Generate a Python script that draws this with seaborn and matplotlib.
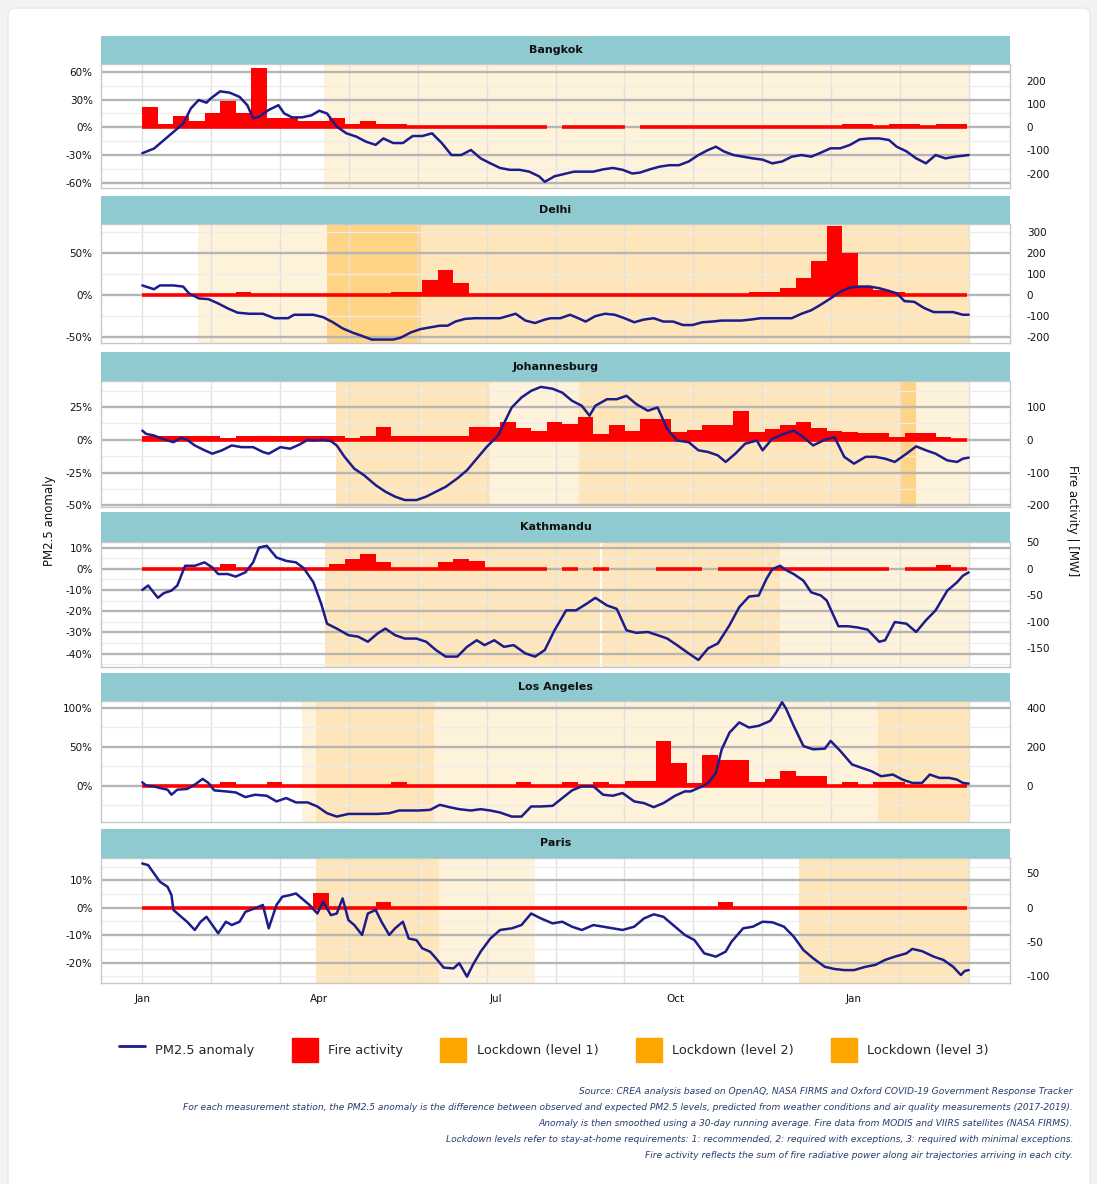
import numpy as np
import pandas as pd
import matplotlib
matplotlib.use("Agg")
import matplotlib.pyplot as plt
import seaborn as sns
from matplotlib.patches import Patch, FancyBboxPatch
from matplotlib.lines import Line2D

# ---------------------------------------------------------------- data
START = pd.Timestamp("2020-01-01")
END_DAY = 425          # 2021-03-01
BIN_DAYS = 8           # fire activity bins

cities = ["Bangkok", "Delhi", "Johannesburg", "Kathmandu", "Los Angeles", "Paris"]

bangkok_days = [0,6,11,16,21,25,29,33,35,40,45,50,54,57,60,65,70,73,77,82,87,91,95,100,105,110,115,120,124,129,
                134,139,144,149,154,159,164,169,174,179,184,189,194,199,204,207,212,217,222,227,232,237,242,247,252,256,
                261,266,271,276,281,286,291,295,299,304,309,314,319,324,329,334,339,344,349,354,359,364,369,374,379,384,
                388,393,398,403,408,413,418,425]
bangkok_pm = [-28,-23,-14,-5,4,20.6,29.6,26.7,31,39,37.5,33,24,9.7,11.5,18.8,24,15,10.8,10.8,13,18,15,0.7,-6.5,-10,
              -15.5,-19,-12,-17,-17,-9.4,-9.4,-6.5,-17,-30,-30,-24.5,-33.6,-39,-44,-46,-46,-48,-53,-59,-53,-50.5,-48,-48,
              -48,-45.5,-44,-46,-50,-49,-45.5,-42.6,-41,-41,-37,-30,-24.5,-21,-26,-30,-31.8,-33.6,-35,-39,-37,-31.8,-30,
              -31.8,-27.4,-22.7,-22.7,-19,-13,-12,-12,-13.7,-21,-26,-33.6,-39,-30,-33.6,-31.8,-30]
bangkok_fire = [87,14,50,29,63,114,63,255,39,39,27,27,39,14,29,14,14,0,0,0,0,0,0,0,0,0,np.nan,0,0,0,0,np.nan,
                0,0,0,0,0,0,0,0,0,0,0,0,0,14,14,0,14,14,0,14,14]

delhi_days = [0,6,9,16,21,24,29,34,39,44,49,55,62,68,75,78,83,88,93,98,103,108,113,118,123,129,133,138,143,148,
              153,157,161,166,171,177,184,189,192,197,202,207,210,215,220,225,228,233,238,243,248,253,258,263,268,273,
              278,283,288,293,298,303,308,313,318,322,329,334,339,344,349,354,359,364,369,374,379,384,388,392,397,402,
              407,412,417,422,425]
delhi_pm = [11.4,6.9,11.4,11.4,10,2,-4,-4.9,-10,-16,-21,-22.3,-22.3,-27.6,-27.6,-23.5,-23.5,-23.5,-26.4,-32.4,
            -39.7,-44.6,-48.7,-53,-53,-53,-50.7,-44.6,-40.6,-38.5,-36.5,-36.5,-31.6,-28.4,-27.6,-27.6,-27.6,-24.3,-22.3,
            -30.4,-33.3,-29.2,-27.6,-27.6,-23.5,-28.4,-31.6,-25.1,-22.3,-23.5,-27.6,-32.4,-29.2,-27.6,-31.6,-31.6,-35.7,
            -35.7,-32.4,-31.6,-30.4,-30.4,-30.4,-29.2,-27.6,-27.6,-27.6,-27.6,-22.3,-18.2,-11.4,-4,4,8.9,10.1,10.1,8.1,
            4.9,2,-7.3,-8.1,-15.4,-20.3,-20.3,-20.3,-23.5,-23.5]
delhi_fire = [0,0,0,0,0,0,16,0,0,0,0,0,0,0,0,0,16,16,70,121,57,0,0,0,0,0,0,0,0,0,0,0,0,0,0,0,0,0,0,16,16,32,81,
              162,328,202,36,24,16,0,0,0,0]

joburg_days = [0,2,6,9,13,16,20,23,27,32,36,41,46,51,57,62,65,71,76,81,85,88,93,97,100,104,109,114,120,125,
               130,135,141,146,151,156,162,167,172,177,183,186,190,195,200,205,211,216,221,226,230,233,239,244,249,254,
               260,265,270,275,281,286,291,296,300,305,310,316,319,324,330,335,340,345,351,356,361,366,372,377,382,387,
               393,398,403,408,414,419,422,425]
joburg_pm = [7,4.5,3.3,1.5,-0.5,-1.8,1.5,0,-4.3,-8,-10.6,-8,-4.3,-5.6,-5.6,-9.3,-10.6,-5.6,-6.8,-3.5,0,-0.5,0,-1,
             -4.3,-13,-22,-27,-34.6,-39.6,-43.4,-46,-46,-43.4,-39.6,-35.9,-29.5,-23.2,-14.4,-5.6,3.3,12.6,24.7,32.3,37.4,
             40.4,39,36,29.8,26,18.4,26,31,31,33.6,27.3,22.2,24.7,8.3,-0.5,-1.8,-8,-9.3,-11.9,-16.9,-10.6,-3,-0.5,-8,0.8,
             4.5,7,2,-4.3,0,2,-13,-18.2,-13,-13,-14.4,-16.9,-10.6,-5,-8,-10.6,-15.7,-16.9,-14.4,-13.6]
joburg_fire = [13,13,13,13,13,6,13,13,13,13,13,13,13,6,13,38,13,13,13,13,13,38,38,55,36,28,55,48,71,18,46,28,64,64,
               23,30,46,46,89,23,33,46,54,36,28,23,20,20,10,20,20,10,3]

kathmandu_days = [0,3,8,11,15,18,22,27,32,36,39,44,48,53,57,60,64,69,74,79,83,88,92,95,100,106,111,116,121,125,
                  130,135,141,146,151,156,162,167,172,176,181,186,191,197,202,207,212,218,223,228,233,239,244,249,254,
                  260,265,270,275,281,286,291,296,302,307,312,317,321,324,328,331,335,340,344,349,352,358,363,368,373,
                  379,382,387,393,398,403,408,414,419,422,425]
kathmandu_pm = [-10,-7.9,-13.7,-11.5,-10.3,-7.9,1.4,1.4,3,0.6,-2.5,-2.5,-3.7,-1.7,3,10,10.8,5.3,3.7,3,0.3,-6.4,-16.5,
                -25.9,-28.2,-31.3,-32,-34.4,-30.5,-28.2,-31.3,-32.9,-32.9,-34.4,-38.3,-41.4,-41.4,-36.8,-33.7,-36,-33.7,
                -36.8,-36,-39.9,-41.4,-38.3,-29,-19.6,-19.6,-16.8,-13.7,-17.3,-18.9,-29,-30.2,-29.8,-31.3,-32.9,-36,-39.9,
                -43,-37.5,-35.2,-26.6,-18.1,-13.1,-12.6,-4.8,-0.2,1.4,-0.6,-2.5,-5.6,-11.1,-12.6,-15,-27.1,-27.1,-27.7,
                -28.7,-34.4,-33.7,-25.1,-25.9,-29.8,-24.3,-19.6,-10.3,-6.4,-3.3,-1.7]
kathmandu_fire = [0,0,0,0,0,8.7,0,0,0,0,0,0,8.7,18,28.7,11.8,0,0,0,11.8,18,13.7,0,0,0,0,np.nan,0,np.nan,0,
                  np.nan,np.nan,np.nan,0,0,0,np.nan,0,0,0,0,0,0,0,0,0,0,0,np.nan,0,0,7.5,0]

la_days = [0,2,6,9,13,15,18,23,27,31,34,37,43,48,53,58,64,69,74,79,85,90,95,100,106,111,116,121,127,132,
           137,142,148,153,158,163,169,174,179,184,190,195,200,205,211,216,221,226,232,237,242,247,253,258,263,268,
           274,279,282,288,291,295,298,302,307,312,317,323,326,329,331,335,340,345,351,354,359,365,370,375,380,386,
           391,396,401,405,410,415,419,422,425]
la_pm = [4.3,0,-0.9,-3,-5.2,-11.7,-5.2,-4.3,1.3,8.7,3.5,-6.1,-7.4,-8.7,-14.7,-11.7,-13,-20.3,-16,-21.6,-21.6,-26.8,
         -35.5,-39.8,-36.4,-36.4,-36.4,-36.4,-35.5,-32,-32,-32,-31.2,-24.7,-27.7,-30.3,-32,-30.3,-32,-34.6,-39.8,-39.8,
         -26.8,-26.8,-26,-16,-6.1,-0.9,-0.9,-11.7,-13,-9.5,-20.3,-22.5,-27.7,-22.5,-13,-7.4,-7.4,-0.9,3.5,16.5,46.8,
         68.4,81.4,74.9,77,83.5,94.4,107.4,99.6,77,51,46.8,47.6,57.6,44.6,27.3,22.9,18.6,12.1,14.3,7.8,3.5,3.5,14.3,10,
         10,7.8,3.5,2.6]
la_fire = [0,0,0,0,0,17,0,0,17,0,0,0,0,0,0,0,17,0,0,0,0,0,0,0,17,0,0,17,0,17,0,22,22,230,118,14,156,132,132,17,35,
           78,48,48,0,17,0,17,17,0,0,0,0]

paris_days = [0,3,6,9,13,15,16,20,23,27,30,33,36,39,43,46,50,53,58,62,65,69,72,76,79,83,86,90,93,97,100,103,106,109,
              113,116,120,123,127,130,134,137,141,144,148,151,155,160,163,167,170,174,179,184,190,195,200,205,211,216,
              221,226,232,237,242,247,253,258,263,268,274,279,284,289,295,300,303,309,314,319,324,330,335,340,345,351,
              356,361,366,372,377,382,387,393,396,401,407,412,417,421,423,425]
paris_pm = [16.1,15.5,12.5,9.5,7.6,4.6,-0.8,-3.3,-5.1,-8.1,-5.1,-3.3,-6.3,-9.3,-5.1,-6.3,-5.1,-1.5,-0.2,1,-7.5,1,4,
            4.6,5.2,2.8,1,-2.1,2.2,-2.7,-2.1,3.4,-4.5,-6.3,-9.9,-2.1,-0.8,-5.1,-9.9,-7.5,-5.1,-11.2,-11.8,-14.8,-16,
            -18.4,-21.8,-22.1,-20.2,-25.1,-20.8,-16,-11.2,-8.1,-7.5,-6.3,-2.1,-3.9,-5.7,-5.1,-6.9,-8.1,-6.3,-6.9,-7.5,
            -8.1,-6.9,-3.9,-2.4,-3.3,-6.9,-9.9,-11.8,-16.6,-17.8,-16,-12.4,-7.5,-6.9,-5.1,-5.3,-6.9,-10.5,-15.4,-18.4,
            -21.5,-22.3,-22.7,-22.7,-21.5,-20.8,-19,-17.8,-16.6,-15,-15.8,-17.8,-19,-21.5,-24.5,-23,-22.7]
paris_fire = [0,0,0,0,0,0,0,0,0,0,0,21,0,0,0,8.7,0,0,0,0,0,0,0,0,0,0,0,0,0,0,0,0,0,0,0,0,0,8.7,0,0,0,0,0,0,0,0,0,
              0,0,0,0,0,0]

# lockdown periods: (start day, end day, level)
bangkok_lock = [(93.5, 425, 1)]
delhi_lock = [(28.7, 95.2, 1), (95.2, 143.4, 3), (143.4, 425, 2)]
joburg_lock = [(99.4, 179, 2), (179, 224.6, 1), (224.6, 389.8, 2), (389.8, 398, 3), (398, 425, 1)]
kathmandu_lock = [(93.7, 235.5, 2), (236.5, 328, 2), (328, 425, 1)]
la_lock = [(82, 89.5, 1), (89.5, 150, 2), (150, 378.4, 1), (378.4, 425, 2)]
paris_lock = [(89.5, 152.7, 2), (152.7, 201.9, 1), (337.5, 425, 2)]

# axis tick values
bangkok_ticks = ([60, 30, 0, -30, -60], [200, 100, 0, -100, -200])
delhi_ticks = ([50, 0, -50], [300, 200, 100, 0, -100, -200])
joburg_ticks = ([25, 0, -25, -50], [100, 0, -100, -200])
kathmandu_ticks = ([10, 0, -10, -20, -30, -40], [50, 0, -50, -100, -150])
la_ticks = ([100, 50, 0], [400, 200, 0])
paris_ticks = ([10, 0, -10, -20], [50, 0, -50, -100])

FIRE_PER_PCT = 4.0   # secondary axis ratio

x_month_labels = ["Jan", "Apr", "Jul", "Oct", "Jan"]
x_month_dates = ["2020-01-01", "2020-04-01", "2020-07-01", "2020-10-01", "2021-01-01"]

legend_labels = ["PM2.5 anomaly", "Fire activity", "Lockdown (level 1)", "Lockdown (level 2)", "Lockdown (level 3)"]

footnote = [
    "Source: CREA analysis based on OpenAQ, NASA FIRMS and Oxford COVID-19 Government Response Tracker",
    "For each measurement station, the PM2.5 anomaly is the difference between observed and expected PM2.5 levels, "
    "predicted from weather conditions and air quality measurements (2017-2019).",
    "Anomaly is then smoothed using a 30-day running average. Fire data from MODIS and VIIRS satellites (NASA FIRMS).",
    "Lockdown levels refer to stay-at-home requirements: 1: recommended, 2: required with exceptions, "
    "3: required with minimal exceptions.",
    "Fire activity reflects the sum of fire radiative power along air trajectories arriving in each city.",
]

# ---------------------------------------------------------------- style
sns.set_style("white")
plt.rcParams["font.family"] = ["DejaVu Sans"]

NAVY = "#1c1c8a"
RED = "#ff0000"
ORANGE = "#ffa500"
STRIP = "#8fcad1"
LOCK_ALPHA = {1: 0.14, 2: 0.27, 3: 0.48}

W, H = 1097, 1184
fig = plt.figure(figsize=(W / 100, H / 100), dpi=100, facecolor="#f2f2f2")
card = FancyBboxPatch((8 / W, -0.02), 1082 / W, (H - 8) / H + 0.02,
                      boxstyle="round,pad=0,rounding_size=0.006", transform=fig.transFigure,
                      facecolor="white", edgecolor="#e8e8e8", lw=1, zorder=-10)
fig.patches.append(card)

panels = [(36, 64, 188), (196, 224, 343), (352, 381, 507), (512, 542, 667), (673, 701, 822), (829, 858, 983)]
ylims = [(-65.7, 68.6), (-57.1, 84.5), (-51.3, 44.9), (-46.3, 12.6), (-46.8, 109), (-27.4, 18.1)]

series = [
    (bangkok_days, bangkok_pm, bangkok_fire, bangkok_lock, bangkok_ticks),
    (delhi_days, delhi_pm, delhi_fire, delhi_lock, delhi_ticks),
    (joburg_days, joburg_pm, joburg_fire, joburg_lock, joburg_ticks),
    (kathmandu_days, kathmandu_pm, kathmandu_fire, kathmandu_lock, kathmandu_ticks),
    (la_days, la_pm, la_fire, la_lock, la_ticks),
    (paris_days, paris_pm, paris_fire, paris_lock, paris_ticks),
]

L, AW = 101 / W, 909 / W
day = pd.Timedelta(days=1)
pad_days = 0.05 * END_DAY
xmin = START - pad_days * day
xmax = START + (END_DAY + pad_days) * day

for i, (city, (top_s, top_a, bot_a), ylim, (days, pm, fire, locks, (lt, rt))) in enumerate(
        zip(cities, panels, ylims, series)):
    ax = fig.add_axes([L, 1 - bot_a / H, AW, (bot_a - top_a) / H])
    sax = fig.add_axes([L, 1 - top_a / H, AW, (top_a - top_s) / H])

    # strip
    sax.set_facecolor(STRIP)
    sax.set_xticks([]); sax.set_yticks([])
    for s in sax.spines.values():
        s.set_visible(False)
    sax.text(0.5, 0.5, city, ha="center", va="center", fontsize=8, fontweight="bold",
             color="#111111", transform=sax.transAxes)

    # lockdown shading
    for d0, d1, lvl in locks:
        ax.axvspan(START + d0 * day, START + d1 * day, color=ORANGE, alpha=LOCK_ALPHA[lvl], lw=0, zorder=0.5)

    # grid
    for v in np.linspace(0, END_DAY, 13):
        ax.axvline(START + v * day, color="#e1e1e1", lw=1, zorder=1)
    step = abs(lt[0] - lt[1])
    minors = np.arange(min(lt) - step / 2, max(lt) + step, step)
    for m in minors:
        if ylim[0] < m < ylim[1]:
            ax.axhline(m, color="#ececec", lw=0.9, zorder=1)
    for t in lt:
        ax.axhline(t, color="#b5b5b5", lw=1.7, zorder=1.1)

    # fire activity (scaled to the left axis like a secondary axis)
    fire = np.asarray(fire, dtype=float)
    bin_start = START + pd.to_timedelta(np.arange(len(fire)) * BIN_DAYS, unit="D")
    ax.bar(bin_start, fire / FIRE_PER_PCT, width=BIN_DAYS, align="edge", color=RED, lw=0, zorder=3)
    valid = ~np.isnan(fire)
    ax.hlines(np.zeros(valid.sum()), bin_start[valid], bin_start[valid] + BIN_DAYS * day,
              color=RED, lw=2.6, zorder=3.1)

    # PM2.5 anomaly
    df = pd.DataFrame({"date": START + pd.to_timedelta(np.asarray(days), unit="D"), "pm": pm})
    sns.lineplot(data=df, x="date", y="pm", ax=ax, color=NAVY, lw=1.8, estimator=None, zorder=5)

    ax.set_xlim(xmin, xmax)
    ax.set_ylim(*ylim)
    ax.set_xlabel(""); ax.set_ylabel("")
    ax.set_yticks(lt)
    ax.set_yticklabels([f"{v:g}%" for v in lt])
    ax.tick_params(axis="y", length=4, color="#9a9a9a", labelsize=7.5, labelcolor="#111111", pad=2)
    xt = pd.to_datetime(x_month_dates)
    ax.set_xticks(xt)
    if i == len(cities) - 1:
        ax.set_xticklabels(x_month_labels)
        ax.tick_params(axis="x", length=5, color="#9a9a9a", labelsize=7.5, labelcolor="#111111", pad=3)
    else:
        ax.set_xticklabels([])
        ax.tick_params(axis="x", length=0)
    for s in ax.spines.values():
        s.set_color("#c8c8c8"); s.set_linewidth(1)

    sec = ax.secondary_yaxis("right", functions=(lambda y: y * FIRE_PER_PCT, lambda y: y / FIRE_PER_PCT))
    sec.set_yticks(rt)
    sec.set_yticklabels([f"{v:g}" for v in rt])
    sec.tick_params(length=0, pad=12, labelsize=7.5, labelcolor="#111111")
    sec.spines["right"].set_visible(False)

fig.text(50 / W, 1 - 521 / H, "PM2.5 anomaly", rotation=90, ha="center", va="center", fontsize=8.5, color="#111111")
fig.text(1072 / W, 1 - 521 / H, "Fire activity | [MW]", rotation=-90, ha="center", va="center", fontsize=8.5,
         color="#111111")

handles = [Line2D([0], [0], color=NAVY, lw=2),
           Patch(facecolor=RED, edgecolor=RED),
           Patch(facecolor=ORANGE, edgecolor=ORANGE),
           Patch(facecolor=ORANGE, edgecolor=ORANGE),
           Patch(facecolor=ORANGE, edgecolor=ORANGE)]
fig.legend(handles, legend_labels, loc="center", bbox_to_anchor=(554 / W, 1 - 1050 / H), ncol=5, frameon=False,
           fontsize=9.3, handlelength=2.0, handleheight=2.6, columnspacing=2.9, handletextpad=0.8)

for k, line in enumerate(footnote):
    fig.text(1073 / W, 1 - (1092 + 16 * k) / H, line, ha="right", va="center", fontsize=6.6, style="italic",
             color="#2c3a70")

fig.savefig("out.png", dpi=100, facecolor=fig.get_facecolor())
